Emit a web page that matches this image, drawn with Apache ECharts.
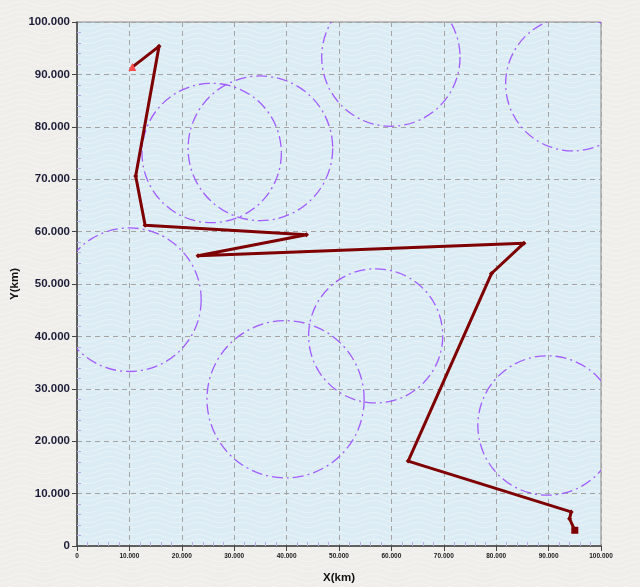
<!DOCTYPE html>
<html>
<head>
<meta charset="utf-8">
<script src="https://cdn.jsdelivr.net/npm/echarts@6/dist/echarts.min.js"></script>
<style>
  html, body { margin: 0; padding: 0; }
  #track { width: 640px; height: 587px; }
</style>
</head>
<body>
<div id="track"></div>
<script>
// 航迹点 (km*1000)
var pathX = [10550, 15650, 11200, 13000, 43800, 23100, 85300, 79100, 63200, 94300, 94000, 95000];
var pathY = [91400, 95350, 70600, 61200, 59400, 55400, 57800, 52000, 16200, 6500, 5200, 3000];

// 圆形区域：圆心与半径
var circleX = [25700, 35000, 59900, 94600, 10000, 57000, 39800, 89800];
var circleY = [75000, 75900, 93300, 88200, 47000, 40100, 28000, 23000];
var circleR = [13300, 13800, 13200, 12800, 13700, 12800, 15000, 13300];

// 刻度标签
var xTickLabels = ['0', '10.000', '20.000', '30.000', '40.000', '50.000', '60.000', '70.000', '80.000', '90.000', '100.000'];
var yTickLabels = ['0', '10.000', '20.000', '30.000', '40.000', '50.000', '60.000', '70.000', '80.000', '90.000', '100.000'];

// 波纹底纹
function makeWave(bg, stroke) {
	var c = document.createElement('canvas');
	c.width = 44; c.height = 22;
	var ctx = c.getContext('2d');
	ctx.fillStyle = bg;
	ctx.fillRect(0, 0, 44, 22);
	ctx.strokeStyle = stroke;
	ctx.lineWidth = 1;
	for (var k = 0; k < 4; k++) {
		ctx.beginPath();
		for (var i = 0; i <= 44; i++) {
			var y = 4 + k * 5 + 2.5 * Math.cos(i / 44 * Math.PI * 2);
			if (i === 0) ctx.moveTo(i, y); else ctx.lineTo(i, y);
		}
		ctx.stroke();
	}
	return c;
}

var myChart = echarts.init(document.getElementById('track'));

var pathData = [];
for (var i = 0; i < pathX.length; i++) {
	var item = { value: [pathX[i], pathY[i]] };
	if (i === 0) {
		item.symbol = 'triangle';
		item.symbolSize = 8;
		item.itemStyle = { color: '#ff4d4d' };
	} else if (i === pathX.length - 1) {
		item.symbol = 'rect';
		item.symbolSize = 7;
	}
	pathData.push(item);
}

var circleData = [];
for (var j = 0; j < circleX.length; j++) {
	circleData.push([circleX[j], circleY[j], circleR[j]]);
}

var option = {
	backgroundColor: { image: makeWave('#efeeea', 'rgba(255,255,255,0.3)'), repeat: 'repeat' },
	animation: false,
	grid: {
		left: 77, top: 22, width: 524, height: 524,
		outerBoundsMode: 'none',
		containLabel: false,
		show: true,
		backgroundColor: { image: makeWave('#dbecf4', 'rgba(255,255,255,0.35)'), repeat: 'repeat' },
		borderColor: '#8a8a8a',
		borderWidth: 1
	},
	xAxis: {
		type: 'value', min: 0, max: 100000, interval: 10000,
		name: 'X(km)', nameLocation: 'middle', nameGap: 26,
		nameTextStyle: { fontFamily: 'Liberation Sans', fontWeight: 'bold', fontSize: 11.5, color: '#111' },
		axisLine: { lineStyle: { color: '#444', width: 1.5 } },
		axisTick: { length: 5, lineStyle: { color: '#444' } },
		minorTick: { show: true, splitNumber: 5, length: -4, lineStyle: { color: '#b9a9e6' } },
		axisLabel: {
			fontFamily: 'Liberation Sans', fontWeight: 'bold', fontSize: 6.5, color: '#1a1a1a', margin: 7,
			formatter: function (v) { return xTickLabels[Math.round(v / 10000)]; }
		},
		splitLine: { lineStyle: { color: '#a4a4a4', type: [5, 4] } }
	},
	yAxis: {
		type: 'value', min: 0, max: 100000, interval: 10000,
		name: 'Y(km)', nameLocation: 'middle', nameGap: 56,
		nameMoveOverlap: false,
		nameTextStyle: { fontFamily: 'Liberation Sans', fontWeight: 'bold', fontSize: 11.5, color: '#111' },
		axisLine: { lineStyle: { color: '#444', width: 1.5 } },
		axisTick: { length: 5, lineStyle: { color: '#444' } },
		minorTick: { show: true, splitNumber: 5, length: -4, lineStyle: { color: '#b9a9e6' } },
		axisLabel: {
			fontFamily: 'Liberation Sans', fontWeight: 'bold', fontSize: 11.5, color: '#1c1c38', margin: 7,
			formatter: function (v) { return yTickLabels[Math.round(v / 10000)]; }
		},
		splitLine: { lineStyle: { color: '#a4a4a4', type: [5, 4] } }
	},
	series: [{
		type: 'custom',
		clip: true,
		silent: true,
		data: circleData,
		renderItem: function (params, api) {
			var c = api.coord([api.value(0), api.value(1)]);
			var r = api.size([api.value(2), 0])[0];
			return {
				type: 'circle',
				shape: { cx: c[0], cy: c[1], r: r },
				style: { fill: 'none', stroke: '#a25cff', lineWidth: 1.3, lineDash: [11, 4, 2, 4] }
			};
		}
	}, {
		type: 'line',
		data: pathData,
		symbol: 'diamond',
		symbolSize: 5,
		showSymbol: true,
		lineStyle: { color: '#7e0000', width: 3 },
		itemStyle: { color: '#7e0000' },
		z: 5
	}]
};

myChart.setOption(option);
</script>
</body>
</html>
